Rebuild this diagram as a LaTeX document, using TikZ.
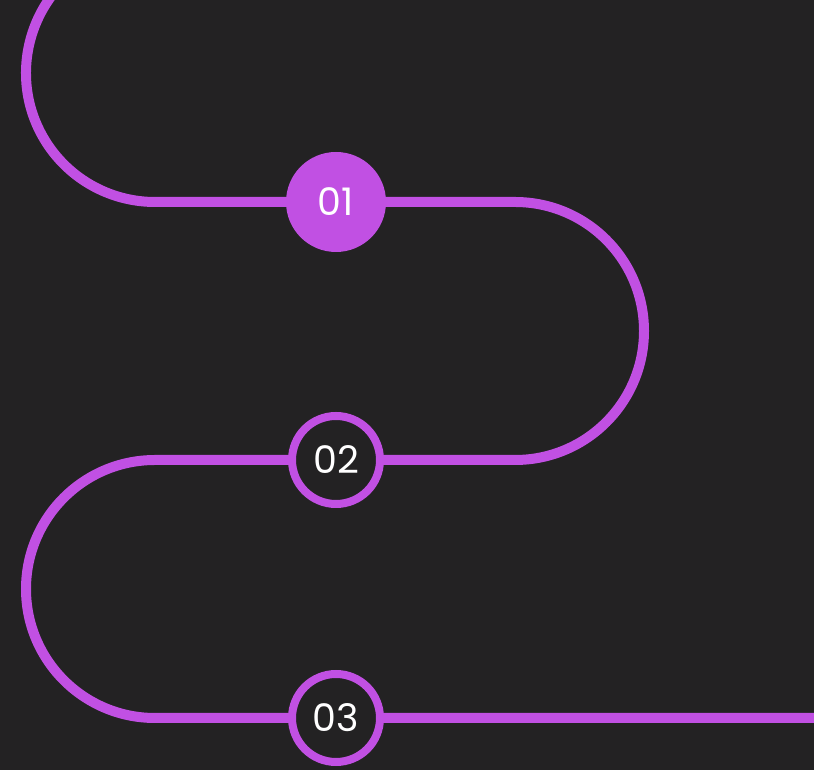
\documentclass[tikz,border=0pt]{standalone}
\usepackage{fontspec}
\setmainfont{Poppins}
\definecolor{bg}{HTML}{232223}
\definecolor{pur}{HTML}{C150E3}
\begin{document}
\begin{tikzpicture}[x=1pt,y=1pt,
  track/.style={draw=pur,line width=10pt},
  numtext/.style={text=white,font=\fontsize{38}{38}\selectfont},
  stepfill/.style={circle,fill=pur,minimum size=100pt,inner sep=0pt,numtext},
  stepring/.style={circle,draw=pur,line width=8pt,fill=bg,minimum size=88pt,inner sep=0pt,numtext}]
\fill[bg] (0,0) rectangle (814,770);
\useasboundingbox (0,0) rectangle (814,770);
\begin{scope}
\clip (0,0) rectangle (814,770);
\coordinate (s) at ({155+129*cos(125)},{697+129*sin(125)});
\coordinate (k1) at (336,568);
\coordinate (a2) at (515,568);
\coordinate (k2) at (336,310);
\coordinate (a3) at (155,310);
\coordinate (k3) at (336,52);
\coordinate (e) at (830,52);
\draw[track] (s) arc[start angle=125,end angle=270,radius=129] -- (k1) -- (a2)
  arc[start angle=90,end angle=-90,radius=129] -- (k2) -- (a3)
  arc[start angle=90,end angle=270,radius=129] -- (k3) -- (e);
\end{scope}
\node[stepfill] (n1) at (k1) {01};
\node[stepring] (n2) at (k2) {02};
\node[stepring] (n3) at (k3) {03};
\end{tikzpicture}
\end{document}
